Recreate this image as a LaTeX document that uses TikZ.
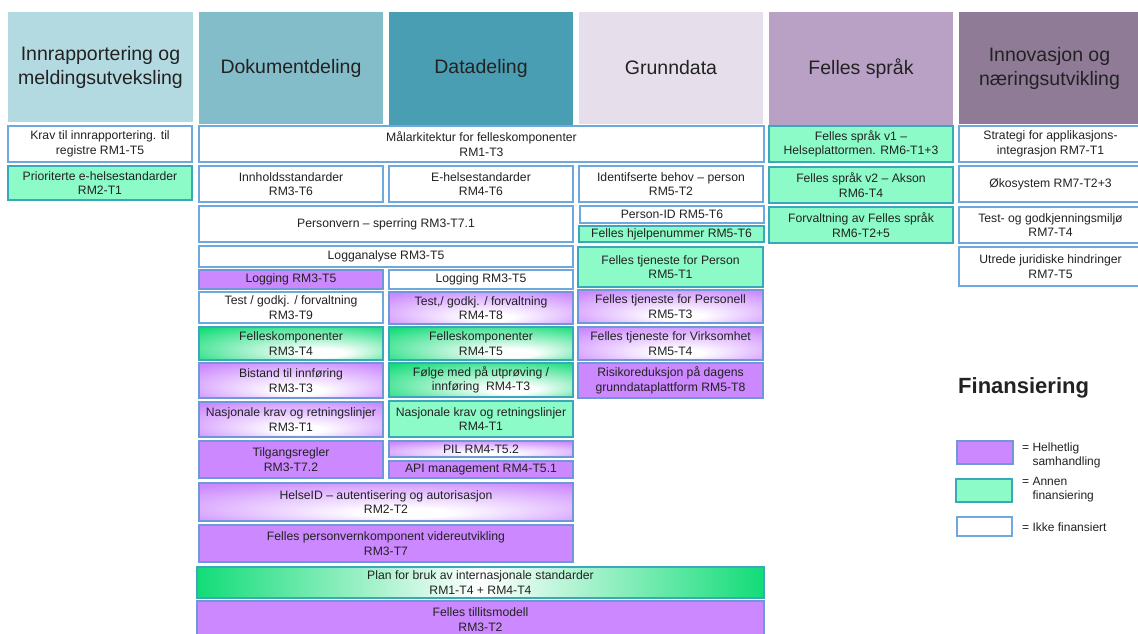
\documentclass[tikz,border=0pt]{standalone}
\usepackage{fontspec}
\setmainfont{Liberation Sans}
\definecolor{pu}{HTML}{CC88FF}
\definecolor{gsol}{HTML}{8CFBC8}
\definecolor{ggr}{HTML}{12DC78}
\definecolor{bw}{HTML}{6FA8DC}
\definecolor{bg}{HTML}{3AA8B8}
\definecolor{bp}{HTML}{6E98D8}
\definecolor{tx}{HTML}{222222}
\definecolor{hA}{HTML}{B4DAE1}
\definecolor{hB}{HTML}{83BDCA}
\definecolor{hC}{HTML}{4A9EB4}
\definecolor{hD}{HTML}{E6DEEA}
\definecolor{hE}{HTML}{B9A1C6}
\definecolor{hF}{HTML}{8F7B96}
\pgfdeclareradialshading{purpleglow}{\pgfpoint{3bp}{-16bp}}{color(0bp)=(white); color(6bp)=(white); color(36bp)=(pu); color(50bp)=(pu)}
\pgfdeclareradialshading{greenglow}{\pgfpoint{10bp}{-16bp}}{color(0bp)=(white); color(6bp)=(white); color(38bp)=(ggr); color(50bp)=(ggr)}
\tikzset{
  box/.style={draw, line width=1.1pt, inner sep=1pt, align=center, text=tx,
    font=\fontsize{12.2}{14.6}\selectfont},
  whitebox/.style={draw=bw, fill=white},
  greenbox/.style={draw=bg, fill=gsol},
  purplebox/.style={draw=bp, fill=pu},
  purpleshade/.style={draw=bp, shade, shading=purpleglow},
  greenshade/.style={draw=bg, shade, shading=greenglow},
  hdr/.style={draw=none, font=\fontsize{19.5}{24}\selectfont},
  legtext/.style={anchor=west, align=left, text=tx, inner sep=0pt,
    font=\fontsize{12}{14}\selectfont}
}
\newcommand\mybox[7]{\node[box,#6,minimum width={(#4-#2)*1pt},minimum height={(#5-#3)*1pt}] (#1) at ({(#2+#4)/2},{(#3+#5)/2}) {#7};}
\begin{document}
\begin{tikzpicture}[x=1pt,y=-1pt]
\useasboundingbox (0,0) rectangle (1138,633);
\fill[white] (0,0) rectangle (1138,633);
% headers
\mybox{h1}{8}{12}{193}{122}{hdr,fill=hA}{Innrapportering og\\meldingsutveksling}
\mybox{h2}{199}{12}{383}{124}{hdr,fill=hB}{Dokumentdeling}
\mybox{h3}{389}{12}{573}{125}{hdr,fill=hC}{Datadeling}
\mybox{h4}{579}{12}{763}{124}{hdr,fill=hD}{Grunndata}
\mybox{h5}{769}{12}{953}{125}{hdr,fill=hE}{Felles språk}
\mybox{h6}{959}{12}{1140}{124}{hdr,fill=hF}{Innovasjon og\\næringsutvikling}
% row 1
\mybox{k1}{8}{126}{192}{162}{whitebox}{Krav til innrapportering. til\\registre RM1-T5}
\mybox{m1}{199}{126}{764}{162}{whitebox}{Målarkitektur for felleskomponenter\\RM1-T3}
\mybox{f1}{769}{126}{953}{162}{greenbox}{Felles språk v1 –\\Helseplattormen. RM6-T1+3}
\mybox{s1}{959}{126}{1142}{162}{whitebox}{Strategi for applikasjons-\\integrasjon RM7-T1}
% row 2
\mybox{p2}{8}{166}{192}{200}{greenbox}{Prioriterte e-helsestandarder\\RM2-T1}
\mybox{i2}{199}{166}{383}{202}{whitebox}{Innholdsstandarder\\RM3-T6}
\mybox{e2}{389}{166}{573}{202}{whitebox}{E-helsestandarder\\RM4-T6}
\mybox{b2}{579}{166}{763}{202}{whitebox}{Identifserte behov – person\\RM5-T2}
\mybox{f2}{769}{167}{953}{203}{greenbox}{Felles språk v2 – Akson\\RM6-T4}
\mybox{o2}{959}{166}{1142}{202}{whitebox}{Økosystem RM7-T2+3}
% row 3
\mybox{pv}{199}{206}{573}{242}{whitebox}{Personvern – sperring RM3-T7.1}
\mybox{pid}{580}{206}{764}{223}{whitebox}{Person-ID RM5-T6}
\mybox{fh}{579}{226}{764}{242}{greenbox}{Felles hjelpenummer RM5-T6}
\mybox{fv}{769}{207}{953}{243}{greenbox}{Forvaltning av Felles språk\\RM6-T2+5}
\mybox{tg}{959}{207}{1142}{243}{whitebox}{Test- og godkjenningsmiljø\\RM7-T4}
% row 4
\mybox{la}{199}{246}{573}{267}{whitebox}{Logganalyse RM3-T5}
\mybox{ftp}{578}{247}{763}{287}{greenbox}{Felles tjeneste for Person\\RM5-T1}
\mybox{uj}{959}{247}{1142}{286}{whitebox}{Utrede juridiske hindringer\\RM7-T5}
% Dokumentdeling / Datadeling columns
\mybox{lg1}{199}{270}{383}{289}{purplebox}{Logging RM3-T5}
\mybox{lg2}{389}{270}{573}{289}{whitebox}{Logging RM3-T5}
\mybox{t1}{199}{292}{383}{323}{whitebox}{Test / godkj. / forvaltning\\RM3-T9}
\mybox{t2}{389}{292}{573}{324}{purpleshade}{Test,/ godkj. / forvaltning\\RM4-T8}
\mybox{fk1}{199}{327}{383}{360}{greenshade}{Felleskomponenter\\RM3-T4}
\mybox{fk2}{389}{327}{573}{360}{greenshade}{Felleskomponenter\\RM4-T5}
\mybox{bi}{199}{363}{383}{398}{purpleshade}{Bistand til innføring\\RM3-T3}
\mybox{fm}{389}{363}{573}{397}{greenshade}{Følge med på utprøving /\\innføring~ RM4-T3}
\mybox{nk1}{199}{402}{383}{437}{purpleshade}{Nasjonale krav og retningslinjer\\RM3-T1}
\mybox{nk2}{389}{401}{573}{437}{greenbox}{Nasjonale krav og retningslinjer\\RM4-T1}
\mybox{tr}{199}{441}{383}{478}{purplebox}{Tilgangsregler\\RM3-T7.2}
\mybox{pil}{389}{441}{573}{457}{purpleshade}{PIL RM4-T5.2}
\mybox{api}{389}{461}{573}{478}{purplebox}{API management RM4-T5.1}
\mybox{hid}{199}{483}{573}{521}{purpleshade}{HelseID – autentisering og autorisasjon\\RM2-T2}
\mybox{fpv}{199}{525}{573}{562}{purplebox}{Felles personvernkomponent videreutvikling\\RM3-T7}
\mybox{plan}{197}{567}{764}{598}{draw=bg,left color=ggr,right color=ggr,middle color=white}{Plan for bruk av internasjonale standarder\\RM1-T4 + RM4-T4}
\mybox{ft}{197}{601}{764}{638}{purplebox}{Felles tillitsmodell\\RM3-T2}
% Grunndata column
\mybox{ftpl}{578}{290}{763}{323}{purpleshade}{Felles tjeneste for Personell\\RM5-T3}
\mybox{ftv}{578}{327}{763}{360}{purpleshade}{Felles tjeneste for Virksomhet\\RM5-T4}
\mybox{rr}{578}{363}{763}{398}{purplebox}{Risikoreduksjon på dagens\\grunndataplattform RM5-T8}
% legend
\node[anchor=base west, inner sep=0pt, text=tx, font=\bfseries\fontsize{22}{26}\selectfont] (fin) at (958,393) {Finansiering};
\mybox{lp}{957}{441}{1013}{464}{purplebox}{}
\mybox{lgn}{956}{479}{1012}{502}{greenbox}{}
\mybox{lw}{957}{517}{1012}{536}{whitebox}{}
\node[legtext] (lpt) at (1022,455) {= Helhetlig\\\hphantom{= }samhandling};
\node[legtext] (lgt) at (1022,490) {= Annen\\\hphantom{= }finansiering};
\node[legtext] (lwt) at (1022,527) {= Ikke finansiert};
\end{tikzpicture}
\end{document}
